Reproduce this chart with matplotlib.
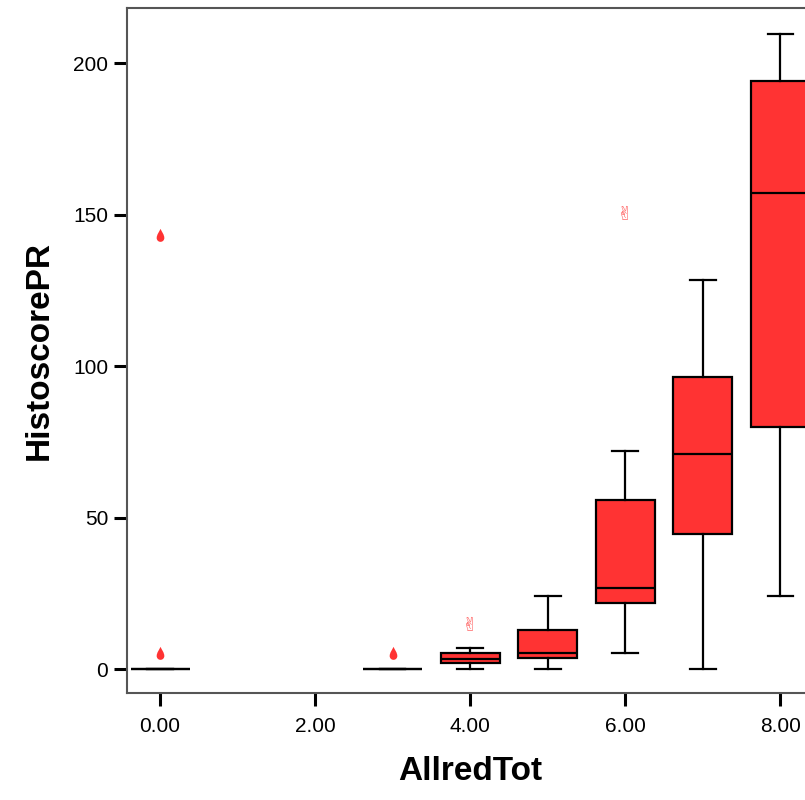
import numpy as np
import matplotlib.pyplot as plt
from matplotlib.path import Path

plt.rcParams['font.family'] = ['Liberation Sans', 'DejaVu Sans']

# box statistics per AllredTot group
groups = [0, 3, 4, 5, 6, 7, 8]
q1 = [0, 0, 2.0, 3.7, 21.8, 44.6, 80]
med = [0, 0, 3.3, 5.2, 26.7, 71, 157]
q3 = [0, 0, 5.4, 13, 55.8, 96.4, 194]
whislo = [0, 0, 0, 0, 5.3, 0, 24]
whishi = [0, 0, 6.8, 24, 72, 128.4, 209.6]

# outliers (drops) and extremes (stars)
out_x = [0, 0, 3]
out_y = [5, 143, 5]
ext_x = [4, 6]
ext_y = [14.5, 150]

xticks = [0, 2, 4, 6, 8]
xlabels = ['0.00', '2.00', '4.00', '6.00', '8.00']
yticks = [0, 50, 100, 150, 200]

stats = []
for i in range(len(groups)):
    stats.append(dict(med=med[i], q1=q1[i], q3=q3[i],
                      whislo=whislo[i], whishi=whishi[i], fliers=[]))

# teardrop marker
verts = [(0, 1),
         (0.15, 0.65), (0.5, 0.25), (0.5, -0.2),
         (0.5, -0.48), (0.28, -0.7), (0, -0.7),
         (-0.28, -0.7), (-0.5, -0.48), (-0.5, -0.2),
         (-0.5, 0.25), (-0.15, 0.65), (0, 1),
         (0, 1)]
codes = [Path.MOVETO] + [Path.CURVE4] * 12 + [Path.CLOSEPOLY]
drop = Path(verts, codes)

fig = plt.figure(figsize=(8.05, 8), dpi=100)
ax = fig.add_axes([0.1578, 0.13375, 0.853, 0.85625])

ax.bxp(stats, positions=groups, widths=0.76, capwidths=0.33,
       showfliers=False, patch_artist=True,
       boxprops=dict(facecolor='#FF3333', edgecolor='black', linewidth=1.6),
       medianprops=dict(color='black', linewidth=1.6),
       whiskerprops=dict(color='black', linewidth=1.6),
       capprops=dict(color='black', linewidth=1.6))

ax.plot(out_x, out_y, linestyle='none', marker=drop, markersize=11,
        color='#FF3333', markeredgewidth=0)
for x, y in zip(ext_x, ext_y):
    ax.text(x, y, '\u270c', color='#FF6060', fontsize=14,
            ha='center', va='center',
            family=['DejaVu Sans', 'Noto Sans CJK JP'])

ax.set_xlim(-0.426, 8.43)
ax.set_ylim(-7.9, 218.2)
ax.set_xticks(xticks)
ax.set_xticklabels(xlabels)
ax.set_yticks(yticks)
ax.tick_params(axis='both', direction='out', length=9.5, width=2.2,
               color='black', labelsize=15, pad=4)
ax.tick_params(axis='x', pad=8)

for s in ax.spines.values():
    s.set_color('#555555')
    s.set_linewidth(1.5)

ax.set_xlabel('AllredTot', fontsize=24, fontweight='bold', labelpad=14)
ax.set_ylabel('HistoscorePR', fontsize=24, fontweight='bold', labelpad=13)

fig.savefig('out.png', dpi=100)
